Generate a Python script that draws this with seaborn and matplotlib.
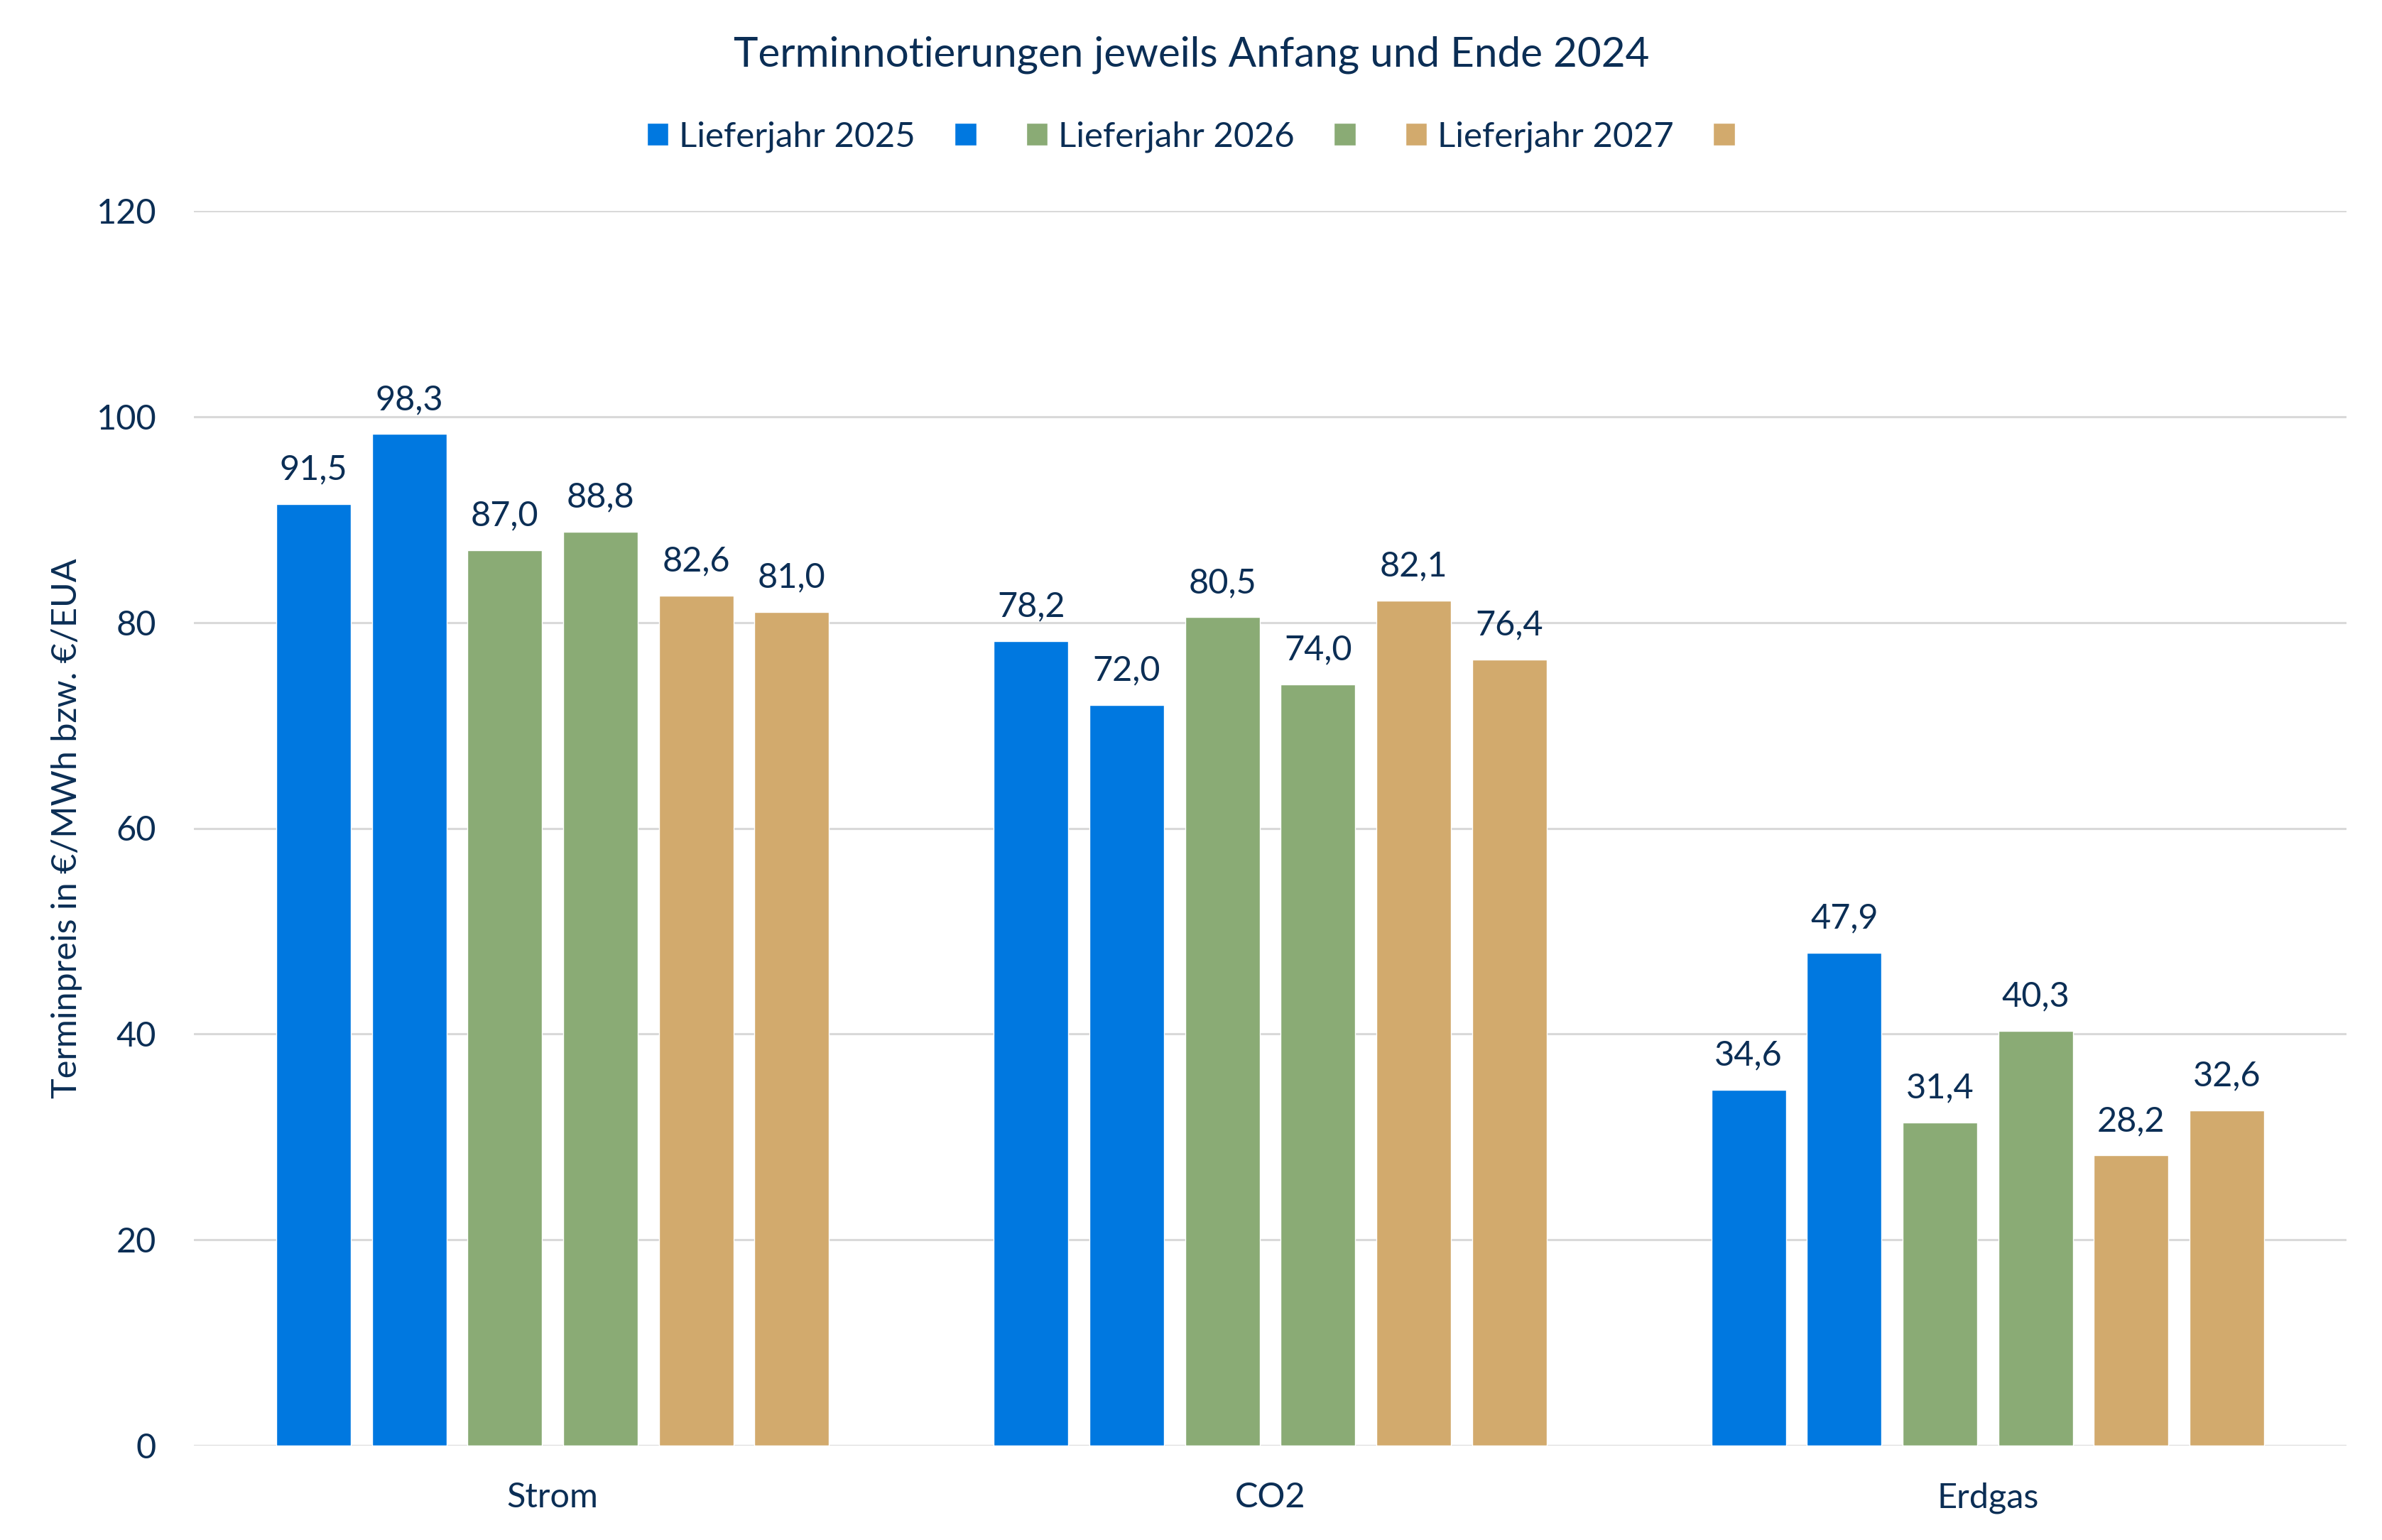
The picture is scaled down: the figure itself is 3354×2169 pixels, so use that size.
import matplotlib
matplotlib.use("Agg")
import matplotlib.pyplot as plt
import seaborn as sns
import pandas as pd

categories = ["Strom", "CO2", "Erdgas"]
series_names = ["Lieferjahr 2025 Anfang", "Lieferjahr 2025 Ende",
                "Lieferjahr 2026 Anfang", "Lieferjahr 2026 Ende",
                "Lieferjahr 2027 Anfang", "Lieferjahr 2027 Ende"]
legend_labels = ["Lieferjahr 2025", "", "Lieferjahr 2026", "", "Lieferjahr 2027", ""]
lj2025_anfang = [91.5, 78.2, 34.6]
lj2025_ende = [98.3, 72.0, 47.9]
lj2026_anfang = [87.0, 80.5, 31.4]
lj2026_ende = [88.8, 74.0, 40.3]
lj2027_anfang = [82.6, 82.1, 28.2]
lj2027_ende = [81.0, 76.4, 32.6]
series_values = [lj2025_anfang, lj2025_ende, lj2026_anfang,
                 lj2026_ende, lj2027_anfang, lj2027_ende]
colors = ["#0078E0", "#0078E0", "#8AAB75", "#8AAB75", "#D2AA6D", "#D2AA6D"]
y_ticks = [0, 20, 40, 60, 80, 100, 120]
title = "Terminnotierungen jeweils Anfang und Ende 2024"
y_label = "Terminpreis in €/MWh bzw. €/EUA"

rows = []
for name, vals in zip(series_names, series_values):
    for cat, v in zip(categories, vals):
        rows.append({"Kategorie": cat, "Reihe": name, "Wert": v})
df = pd.DataFrame(rows)

sns.set_theme(style="white")
plt.rcParams["font.family"] = ["Lato", "DejaVu Sans"]
TXT = "#0B2E55"
FS = 35

fig = plt.figure(figsize=(33.55, 21.69), dpi=100)
ax = fig.add_axes([273/3355, 1-2036/2169, (3304-273)/3355, (2036-297)/2169])

sns.barplot(data=df, x="Kategorie", y="Wert", hue="Reihe",
            order=categories, hue_order=series_names,
            palette=colors, width=0.8, gap=0.22, saturation=1,
            legend=False, ax=ax, errorbar=None)

ax.set_xlim(-0.5, 2.5)
ax.set_ylim(0, 120)
ax.set_yticks(y_ticks)
ax.set_yticklabels([str(t) for t in y_ticks])
ax.set_axisbelow(True)
ax.yaxis.grid(True, color="#D9D9D9", linewidth=2.2)
ax.xaxis.grid(False)
for s in ax.spines.values():
    s.set_visible(False)
ax.tick_params(axis="y", length=0, pad=38, labelsize=FS, labelcolor=TXT)
ax.tick_params(axis="x", length=0, pad=37, labelsize=FS, labelcolor=TXT)
ax.set_xlabel("")
ax.set_ylabel(y_label, fontsize=FS, color=TXT, labelpad=14)

for cont, vals in zip(ax.containers, series_values):
    ax.bar_label(cont, labels=[f"{v:.1f}".replace(".", ",") for v in vals],
                 padding=19, fontsize=FS, color=TXT)

fig.text(0.5, 1-77/2169, title, ha="center", va="center", fontsize=42, color=TXT)

handles = [c.patches[0] for c in ax.containers]
fig.legend(handles, legend_labels, loc="center", bbox_to_anchor=(0.502, 1-193/2169),
           ncol=6, frameon=False, fontsize=35.5, labelcolor=TXT,
           handlelength=0.62, handleheight=0.62, handletextpad=0.3,
           columnspacing=1.12)

fig.savefig("out.png", dpi=100)
